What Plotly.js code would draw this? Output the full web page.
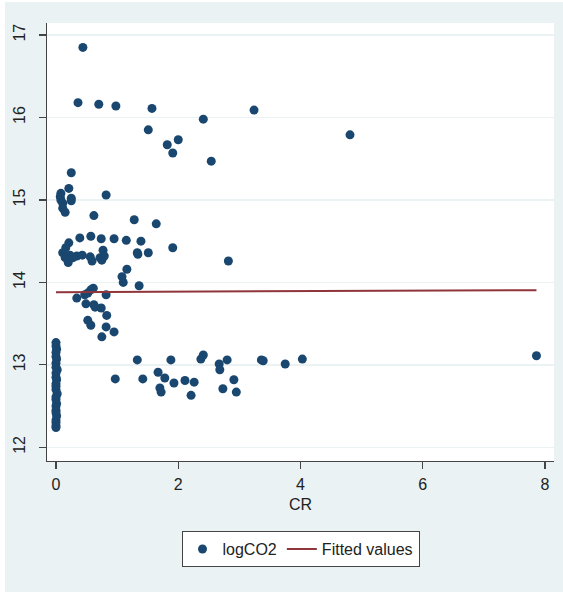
<!DOCTYPE html>
<html>
<head>
<meta charset="utf-8">
<script src="https://cdn.plot.ly/plotly-3.0.1.min.js"></script>
<style>
html,body{margin:0;padding:0;background:#ffffff;}
#chart{position:absolute;left:5px;top:2px;width:558px;height:590px;}
</style>
</head>
<body>
<div id="chart"></div>
<script>
// Scatter data: CR vs logCO2
const crValues = [
  0.44,0.36,0.70,0.98,1.57,3.24,2.41,1.51,4.81,2.00,1.82,1.91,2.54,0.25,
  0.21,0.08,0.07,0.08,0.11,0.11,0.15,0.25,0.25,0.82,0.62,1.28,1.64,
  0.39,0.57,0.74,0.95,1.15,1.39,1.91,0.21,0.23,0.16,0.11,0.15,0.20,0.28,0.34,0.43,0.56,0.59,0.72,0.77,0.75,0.79,1.33,1.34,1.51,1.16,1.08,1.10,1.36,2.82,
  0.34,0.47,0.52,0.57,0.61,0.49,0.62,0.64,0.74,0.82,0.83,0.52,0.57,0.82,0.95,0.75,
  0.97,1.33,1.42,1.67,1.70,1.72,1.78,1.88,1.93,2.11,2.21,2.26,2.37,2.41,2.67,2.68,2.73,2.80,2.91,2.95,3.36,3.39,3.75,4.03,7.86,
  0,0,0.01,0,0,0.01,0,0,0.02,0,0,0.01,0,0,0,0.02,0,0,0.01,0,0,0,0.01,0,0,0,0
];
const logCO2 = [
  16.85,16.18,16.16,16.14,16.11,16.09,15.98,15.85,15.79,15.73,15.67,15.57,15.47,15.33,
  15.14,15.08,15.04,15.00,14.96,14.90,14.85,15.02,14.99,15.06,14.81,14.76,14.71,
  14.54,14.56,14.53,14.53,14.51,14.50,14.42,14.48,14.33,14.42,14.36,14.30,14.24,14.30,14.32,14.33,14.31,14.26,14.30,14.39,14.27,14.32,14.36,14.34,14.36,14.16,14.07,14.00,13.96,14.26,
  13.81,13.85,13.87,13.91,13.93,13.74,13.73,13.70,13.69,13.85,13.60,13.54,13.48,13.46,13.40,13.34,
  12.83,13.06,12.83,12.91,12.72,12.67,12.84,13.06,12.78,12.81,12.63,12.79,13.07,13.12,13.01,12.94,12.71,13.06,12.82,12.67,13.06,13.05,13.01,13.07,13.11,
  13.27,13.23,13.19,13.15,13.10,13.07,13.02,12.97,12.94,12.90,12.85,12.82,12.77,12.74,12.70,12.65,12.61,12.58,12.53,12.50,12.45,12.42,12.38,12.33,12.30,12.26,12.24
];
// Fitted values line (endpoints of the fit over the CR range)
const fitX = [0, 7.86];
const fitY = [13.882, 13.905];
const xTicks = [0, 2, 4, 6, 8];
const yTicks = [12, 13, 14, 15, 16, 17];

const font = "'Liberation Sans', Arial, sans-serif";

const traces = [
  {
    type: 'scatter', mode: 'markers', name: 'logCO2',
    x: crValues, y: logCO2,
    marker: {color: '#1a476f', size: 9, line: {width: 0}},
    cliponaxis: false
  },
  {
    type: 'scatter', mode: 'lines', name: 'Fitted values',
    x: fitX, y: fitY,
    line: {color: '#90353b', width: 2}
  }
];

const layout = {
  width: 558, height: 590,
  paper_bgcolor: '#eaf2f3',
  plot_bgcolor: '#ffffff',
  margin: {l: 42, r: 9, t: 21, b: 131},
  font: {family: font, size: 16, color: '#222222'},
  showlegend: true,
  xaxis: {
    range: [-0.147, 8.147],
    tickvals: xTicks, ticktext: xTicks.map(String),
    showgrid: false, zeroline: false,
    showline: true, linecolor: '#444444', linewidth: 1.2,
    ticks: 'outside', ticklen: 7, tickcolor: '#444444', tickwidth: 1.2,
    ticklabelstandoff: 2,
    tickfont: {family: font, size: 16, color: '#222222'},
    title: {text: 'CR', font: {family: font, size: 16, color: '#222222'}, standoff: 6}
  },
  yaxis: {
    range: [11.834, 17.146],
    tickvals: yTicks, ticktext: yTicks.map(String),
    tickangle: -90,
    ticklabelstandoff: 7,
    showgrid: true, gridcolor: '#eaf2f3', gridwidth: 1.5,
    zeroline: false,
    showline: true, linecolor: '#444444', linewidth: 1.2,
    ticks: 'outside', ticklen: 7, tickcolor: '#444444', tickwidth: 1.2,
    tickfont: {family: font, size: 16, color: '#222222'}
  },
  legend: {
    orientation: 'h',
    x: 0.5, xanchor: 'center',
    y: -0.16, yanchor: 'top',
    bgcolor: '#ffffff', bordercolor: '#444444', borderwidth: 1,
    font: {family: font, size: 16, color: '#222222'},
    itemwidth: 30
  }
};

Plotly.newPlot('chart', traces, layout, {displayModeBar: false, staticPlot: true});
</script>
</body>
</html>
